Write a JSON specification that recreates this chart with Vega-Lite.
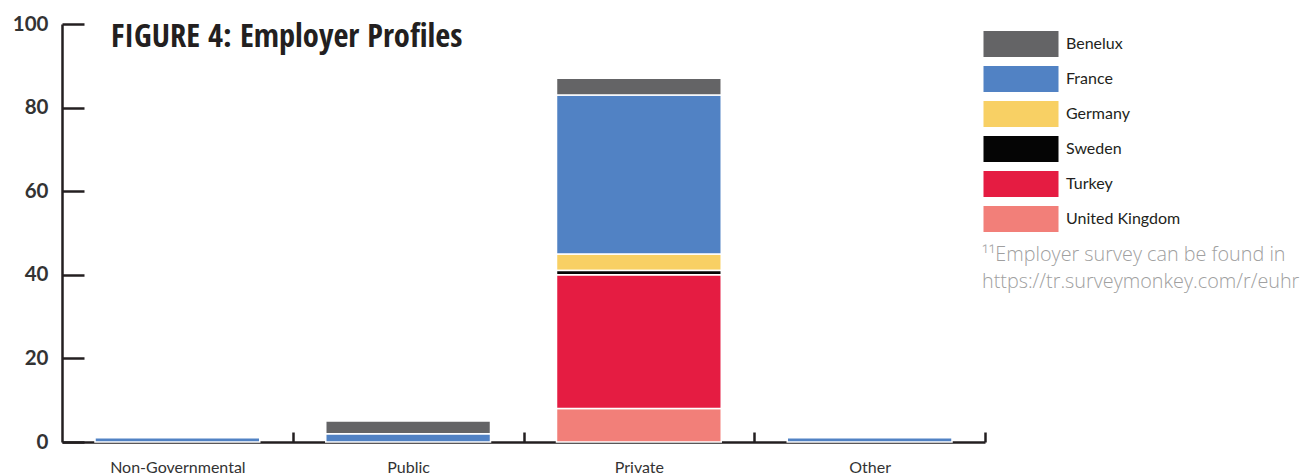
{
  "$schema": "https://vega.github.io/schema/vega-lite/v6.json",
  "autosize": {"type": "none"},
  "width": 923,
  "height": 418,
  "padding": {"left": 62, "top": 24, "right": 329, "bottom": 34},
  "background": "white",
  "title": {
    "text": "FIGURE 4: Employer Profiles",
    "anchor": "start",
    "frame": "group",
    "orient": "top",
    "offset": -23,
    "dx": 49,
    "dy": 42,
    "baseline": "alphabetic",
    "font": "'Open Sans Condensed', 'Liberation Sans Narrow', 'DejaVu Sans Condensed', sans-serif",
    "fontWeight": "bold",
    "fontSize": 32.5,
    "color": "#231f20"
  },
  "data": {
    "values": [
      {"sector": "Non-Governmental", "country": "France", "percent": 1},
      {"sector": "Public", "country": "France", "percent": 2},
      {"sector": "Public", "country": "Benelux", "percent": 3},
      {"sector": "Private", "country": "United Kingdom", "percent": 8},
      {"sector": "Private", "country": "Turkey", "percent": 32},
      {"sector": "Private", "country": "Germany", "percent": 4},
      {"sector": "Private", "country": "Sweden", "percent": 1},
      {"sector": "Private", "country": "France", "percent": 38},
      {"sector": "Private", "country": "Benelux", "percent": 4},
      {"sector": "Other", "country": "France", "percent": 1}
    ]
  },
  "mark": {"type": "bar", "stroke": "white", "strokeWidth": 1.5},
  "encoding": {
    "x": {
      "field": "sector",
      "type": "nominal",
      "sort": ["Non-Governmental", "Public", "Private", "Other"],
      "title": null,
      "scale": {"paddingInner": 0.286, "paddingOuter": 0.143},
      "axis": {
        "labelAngle": 0,
        "tickOffset": 115.4,
        "labelOffset": -115.4,
        "tickSize": -10,
        "tickWidth": 2.5,
        "tickColor": "#231f20",
        "domainColor": "#231f20",
        "domainWidth": 2.5,
        "labelPadding": 27,
        "labelBaseline": "top",
        "labelFont": "Lato",
        "labelFontSize": 16,
        "labelColor": "#333333"
      }
    },
    "y": {
      "field": "percent",
      "type": "quantitative",
      "stack": "zero",
      "title": null,
      "scale": {"domain": [0, 100]},
      "axis": {
        "values": [0, 20, 40, 60, 80, 100],
        "grid": false,
        "tickSize": -22,
        "tickWidth": 2.5,
        "tickColor": "#231f20",
        "domainColor": "#231f20",
        "domainWidth": 2.5,
        "labelPadding": 36,
        "labelFont": "Lato",
        "labelFontWeight": "bold",
        "labelFontSize": 20.5,
        "labelColor": "#333333"
      }
    },
    "color": {
      "field": "country",
      "type": "nominal",
      "scale": {
        "domain": ["Benelux", "France", "Germany", "Sweden", "Turkey", "United Kingdom"],
        "range": ["#646466", "#5182c4", "#f8d064", "#050505", "#e51c42", "#f27f79"]
      },
      "legend": {
        "orient": "none",
        "legendX": 920,
        "legendY": 7,
        "title": ["¹¹Employer survey can be found in", "https://tr.surveymonkey.com/r/euhr"],
        "titleOrient": "bottom",
        "titleAnchor": "start",
        "titleAlign": "left",
        "titleLimit": 0,
        "titleFont": "'Open Sans'",
        "titleFontWeight": 300,
        "titleFontSize": 19.8,
        "titleColor": "#a0a0a0",
        "titleLineHeight": 27,
        "titlePadding": 13,
        "symbolType": "M-0.885,-1H4.885V1H-0.885Z",
        "symbolSize": 676,
        "symbolStrokeWidth": 0,
        "symbolOpacity": 1,
        "labelFont": "Lato",
        "labelFontSize": 16,
        "labelColor": "#231f20",
        "labelOffset": 58,
        "rowPadding": 9
      }
    },
    "order": {"field": "country", "sort": "descending"}
  },
  "config": {"view": {"stroke": null}}
}
